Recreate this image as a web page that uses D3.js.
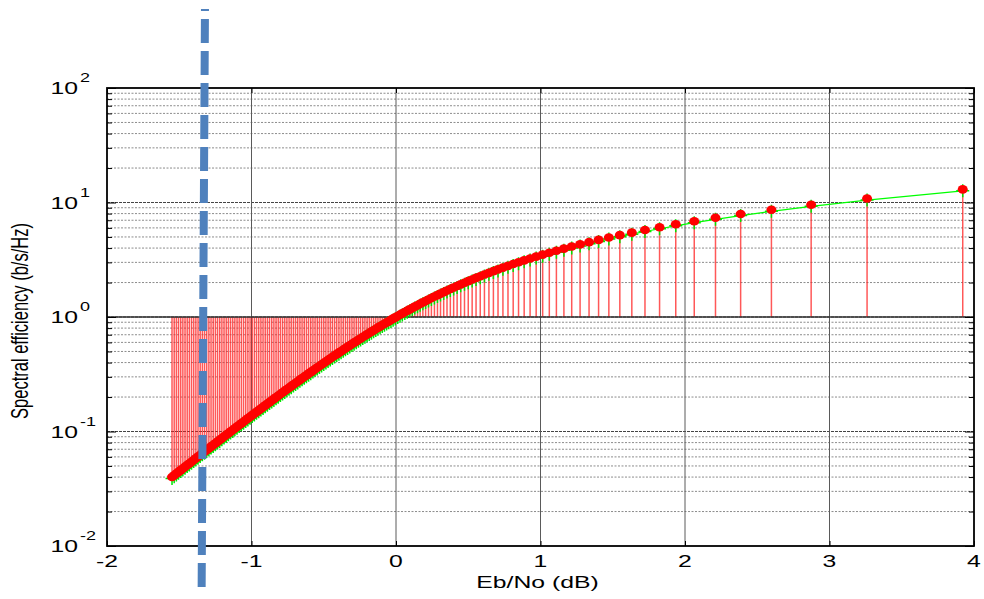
<!DOCTYPE html>
<html>
<head>
<meta charset="utf-8">
<title>Spectral efficiency vs Eb/No</title>
<style>
  body { margin: 0; background: #fff; }
  text { font-family: Arial, "Liberation Sans", Helvetica, sans-serif; fill: #000; }
</style>
<script src="https://cdn.jsdelivr.net/npm/d3@7"></script>
</head>
<body>
<svg id="chart"></svg>
<script>
const W = 984, H = 599;
const M = {top: 88, right: 10, bottom: 53, left: 107};
const SX = 1.5; // text in the picture is stretched sideways

// axis ticks
const xTicks = [-2, -1, 0, 1, 2, 3, 4];
const yDecades = [-2, -1, 0, 1, 2];

// Eb/No (dB) of each stem
const ebNoDb = [
  -1.55, -1.535, -1.52, -1.505, -1.49, -1.475, -1.46, -1.445, -1.43, -1.415,
  -1.4, -1.385, -1.37, -1.355, -1.34, -1.325, -1.31, -1.295, -1.28, -1.265,
  -1.25, -1.235, -1.22, -1.205, -1.19, -1.175, -1.16, -1.145, -1.13, -1.115,
  -1.1, -1.085, -1.07, -1.055, -1.04, -1.025, -1.01, -0.995, -0.98, -0.965,
  -0.95, -0.935, -0.92, -0.905, -0.89, -0.875, -0.86, -0.845, -0.83, -0.815,
  -0.8, -0.785, -0.77, -0.755, -0.74, -0.725, -0.71, -0.695, -0.68, -0.665,
  -0.65, -0.635, -0.62, -0.605, -0.59, -0.575, -0.56, -0.545, -0.53, -0.515,
  -0.5, -0.485, -0.47, -0.455, -0.44, -0.425, -0.41, -0.395, -0.38, -0.365,
  -0.35, -0.335, -0.32, -0.305, -0.29, -0.275, -0.26, -0.245, -0.23, -0.215,
  -0.2, -0.185, -0.17, -0.155, -0.14, -0.125, -0.11, -0.095, -0.08, -0.065,
  -0.05, -0.035, -0.02, -0.005,
  0.012, 0.028, 0.044, 0.061, 0.078, 0.095, 0.113, 0.130, 0.149, 0.167,
  0.186, 0.205, 0.225, 0.245, 0.266, 0.287, 0.308, 0.330, 0.353, 0.376,
  0.399, 0.423, 0.448, 0.474, 0.500, 0.527, 0.554, 0.583, 0.612, 0.643,
  0.674, 0.706, 0.740, 0.775, 0.811, 0.848, 0.887, 0.928, 0.970, 1.015,
  1.061, 1.110, 1.162, 1.216, 1.274, 1.336, 1.402, 1.473, 1.549, 1.632,
  1.723, 1.824, 1.936, 2.064, 2.211, 2.385, 2.598, 2.873, 3.260, 3.922
];

// spectral efficiency (b/s/Hz) of each stem
const specEff = [
  0.0401, 0.0415, 0.0429, 0.0444, 0.0460, 0.0475, 0.0492, 0.0509, 0.0526, 0.0545,
  0.0563, 0.0583, 0.0603, 0.0623, 0.0645, 0.0667, 0.0690, 0.0714, 0.0738, 0.0763,
  0.0789, 0.0816, 0.0844, 0.0873, 0.0903, 0.0933, 0.0965, 0.0998, 0.1032, 0.1067,
  0.1103, 0.1140, 0.1178, 0.1218, 0.1259, 0.1302, 0.1345, 0.1390, 0.1437, 0.1485,
  0.1534, 0.1585, 0.1638, 0.1692, 0.1748, 0.1806, 0.1866, 0.1927, 0.1990, 0.2055,
  0.2123, 0.2192, 0.2263, 0.2336, 0.2412, 0.2490, 0.2570, 0.2653, 0.2737, 0.2825,
  0.2915, 0.3007, 0.3102, 0.3200, 0.3300, 0.3404, 0.3510, 0.3619, 0.3731, 0.3846,
  0.3964, 0.4085, 0.4210, 0.4338, 0.4469, 0.4603, 0.4741, 0.4882, 0.5026, 0.5176,
  0.5328, 0.5483, 0.5643, 0.5806, 0.5973, 0.6144, 0.6318, 0.6497, 0.6680, 0.6867,
  0.7057, 0.7252, 0.7451, 0.7654, 0.7861, 0.8073, 0.8288, 0.8508, 0.8732, 0.8961,
  0.9193, 0.9430, 0.9672, 0.9917,
  1.020, 1.047, 1.075, 1.105, 1.135, 1.166, 1.199, 1.233, 1.268, 1.304,
  1.342, 1.381, 1.421, 1.464, 1.508, 1.553, 1.601, 1.650, 1.701, 1.755,
  1.810, 1.868, 1.928, 1.991, 2.057, 2.125, 2.196, 2.271, 2.349, 2.430,
  2.516, 2.605, 2.699, 2.797, 2.900, 3.009, 3.123, 3.243, 3.369, 3.503,
  3.645, 3.795, 3.955, 4.125, 4.307, 4.503, 4.713, 4.940, 5.186, 5.455,
  5.751, 6.080, 6.448, 6.868, 7.353, 7.929, 8.635, 9.545, 10.830, 13.028
];

// stem baseline and the hand-drawn dashed marker (x at bottom, x at top)
const stemBase = 1;
const markerX = [-1.345, -1.322];

const svg = d3.select('#chart').attr('width', W).attr('height', H);
const x = d3.scaleLinear().domain([-2, 4]).range([M.left, W - M.right]);
const y = d3.scaleLog().domain([1e-2, 1e2]).range([H - M.bottom, M.top]);
const points = ebNoDb.map((v, i) => ({x: v, y: specEff[i]}));

const isMajor = v => Math.abs(Math.log10(v) - Math.round(Math.log10(v))) < 1e-9;
const yMinor = y.ticks().filter(v => !isMajor(v));
const yMajor = yDecades.map(d => Math.pow(10, d));

function putText(str, px, py, size, anchor, rot) {
    return svg.append('text')
        .attr('transform', `translate(${px},${py}) scale(${SX},1)` + (rot ? ` rotate(${rot})` : ''))
        .attr('text-anchor', anchor)
        .style('font-size', size + 'px')
        .text(str);
}

// Grid
const grid = svg.append('g');
grid.selectAll('.hmin').data(yMinor).join('line')
    .attr('x1', M.left).attr('x2', W - M.right)
    .attr('y1', d => y(d)).attr('y2', d => y(d))
    .attr('stroke', '#8c8c8c').attr('stroke-dasharray', '2,1.5');
grid.selectAll('.hmaj').data(yMajor.slice(1, -1)).join('line')
    .attr('x1', M.left).attr('x2', W - M.right)
    .attr('y1', d => y(d)).attr('y2', d => y(d))
    .attr('stroke', '#444').attr('stroke-width', 1.2).attr('stroke-dasharray', '3,1');
grid.selectAll('.v').data(xTicks.slice(1, -1)).join('line')
    .attr('x1', d => x(d)).attr('x2', d => x(d))
    .attr('y1', M.top).attr('y2', H - M.bottom)
    .attr('stroke', '#5a5a5a');

// Stems from the baseline
svg.append('g').selectAll('line').data(points).join('line')
    .attr('x1', d => x(d.x)).attr('x2', d => x(d.x))
    .attr('y1', y(stemBase)).attr('y2', d => y(d.y))
    .attr('stroke', '#ff2020').attr('stroke-opacity', 0.75).attr('stroke-width', 1.5);
svg.append('line')
    .attr('x1', M.left).attr('x2', W - M.right)
    .attr('y1', y(stemBase)).attr('y2', y(stemBase))
    .attr('stroke', '#333').attr('stroke-width', 1.5);

// Green line with plus markers
const green = svg.append('g').attr('transform', 'translate(0,1.5)');
green.append('path')
    .datum(points)
    .attr('d', d3.line().x(d => x(d.x)).y(d => y(d.y)))
    .attr('fill', 'none').attr('stroke', '#00ff00').attr('stroke-width', 1.2);
green.selectAll('path.plus').data(points).join('path')
    .attr('class', 'plus')
    .attr('d', d => `M${x(d.x) - 6.5},${y(d.y)}h13M${x(d.x)},${y(d.y) - 6.5}v13`)
    .attr('stroke', '#00e600').attr('stroke-width', 1.5);

// Red stem markers
svg.append('g').selectAll('ellipse').data(points).join('ellipse')
    .attr('cx', d => x(d.x)).attr('cy', d => y(d.y))
    .attr('rx', 5).attr('ry', 4.3)
    .attr('fill', '#ff0000');

// Ticks on all four sides, pointing inward
function ticks(axis, vals, size, tr) {
    svg.append('g').attr('transform', tr)
        .call(axis.tickValues(vals).tickSize(size).tickFormat(''))
        .call(g => g.select('.domain').remove());
}
ticks(d3.axisLeft(y), yMajor, -9, `translate(${M.left},0)`);
ticks(d3.axisLeft(y), yMinor, -5, `translate(${M.left},0)`);
ticks(d3.axisRight(y), yMajor, -9, `translate(${W - M.right},0)`);
ticks(d3.axisRight(y), yMinor, -5, `translate(${W - M.right},0)`);
ticks(d3.axisBottom(x), xTicks, -5, `translate(0,${H - M.bottom})`);
ticks(d3.axisTop(x), xTicks, -5, `translate(0,${M.top})`);

// Box
svg.append('rect')
    .attr('x', M.left).attr('y', M.top)
    .attr('width', W - M.left - M.right).attr('height', H - M.top - M.bottom)
    .attr('fill', 'none').attr('stroke', '#000').attr('stroke-width', 1.8);

// Tick labels
xTicks.forEach(t => putText(String(t), x(t), H - M.bottom + 21, 16.5, 'middle'));
yDecades.forEach(d => {
    const py = y(Math.pow(10, d));
    putText('10', M.left - 29, py + 6, 16.5, 'end');
    putText(String(d), M.left - 27, py - 6, 12, 'start');
});

// Axis titles
putText('Eb/No (dB)', x(1) - 3, H - M.bottom + 42, 16.5, 'middle');
putText('Spectral efficiency (b/s/Hz)', 28, (M.top + H - M.bottom) / 2 + 4, 16.5, 'middle', -90);

// Dashed marker drawn over the plot
svg.append('line')
    .attr('x1', x(markerX[0])).attr('y1', H - M.bottom + 41)
    .attr('x2', x(markerX[1])).attr('y2', M.top - 79)
    .attr('stroke', '#4f81bd').attr('stroke-width', 8)
    .attr('stroke-dasharray', '24,8');
</script>
</body>
</html>
